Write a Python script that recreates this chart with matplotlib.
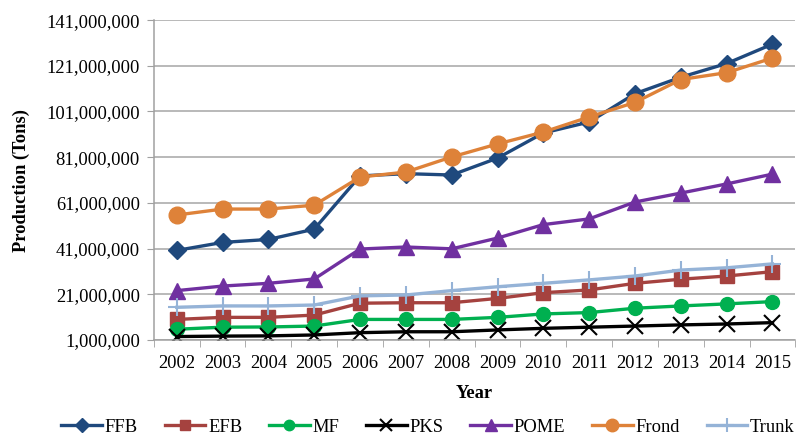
import matplotlib
matplotlib.use("Agg")
import matplotlib.pyplot as plt
from matplotlib.ticker import FuncFormatter, FixedLocator

years = [2002, 2003, 2004, 2005, 2006, 2007, 2008, 2009, 2010, 2011, 2012, 2013, 2014, 2015]
ffb = [40.2e6, 43.7e6, 45.0e6, 49.5e6, 72.8e6, 73.8e6, 73.2e6, 80.6e6, 91.6e6, 96.4e6, 108.8e6, 116.0e6, 122.0e6, 130.5e6]
efb = [10.0e6, 10.9e6, 10.9e6, 11.9e6, 17.1e6, 17.3e6, 17.3e6, 19.2e6, 21.7e6, 22.9e6, 25.8e6, 27.6e6, 29.0e6, 30.9e6]
mf = [5.7e6, 6.6e6, 6.7e6, 7.1e6, 10.0e6, 10.0e6, 10.0e6, 10.9e6, 12.4e6, 13.0e6, 14.9e6, 15.9e6, 16.8e6, 17.8e6]
pks = [2.5e6, 2.7e6, 2.8e6, 3.2e6, 4.2e6, 4.6e6, 4.6e6, 5.4e6, 6.1e6, 6.6e6, 7.1e6, 7.6e6, 8.0e6, 8.6e6]
pome = [22.6e6, 24.6e6, 25.8e6, 27.7e6, 40.8e6, 41.7e6, 40.9e6, 45.6e6, 51.5e6, 54.0e6, 61.4e6, 65.3e6, 69.3e6, 73.6e6]
frond = [55.7e6, 58.3e6, 58.3e6, 60.0e6, 72.3e6, 74.5e6, 81.1e6, 86.8e6, 92.0e6, 98.6e6, 105.0e6, 115.0e6, 118.0e6, 124.4e6]
trunk = [15.3e6, 15.9e6, 15.9e6, 16.3e6, 20.3e6, 20.7e6, 22.6e6, 24.3e6, 25.8e6, 27.3e6, 29.0e6, 31.6e6, 32.6e6, 34.3e6]
yticks = [1e6, 21e6, 41e6, 61e6, 81e6, 101e6, 121e6, 141e6]

series = [
    ("FFB", ffb, "#1F497D", "D", 9),
    ("EFB", efb, "#A5423F", "s", 10),
    ("MF", mf, "#00B050", "o", 10),
    ("PKS", pks, "#000000", "x", 11),
    ("POME", pome, "#7030A0", "^", 11),
    ("Frond", frond, "#DE8239", "o", 12),
    ("Trunk", trunk, "#95B3D7", "+", 13),
]

plt.rcParams['font.family'] = ['Liberation Serif', 'DejaVu Serif']

fig = plt.figure(figsize=(7.97, 4.37), dpi=100)
ax = fig.add_axes([0.193, 0.222, 0.805, 0.732])

x = list(range(len(years)))
for name, vals, col, mk, ms in series:
    kw = dict(color=col, lw=2.4, marker=mk, markersize=ms, label=name,
              markerfacecolor=col, markeredgecolor=col)
    if mk in ("x", "+"):
        kw["markeredgewidth"] = 1.5
    ax.plot(x, vals, **kw)

ax.set_xlim(-0.5, len(years) - 0.5)
ax.set_ylim(1e6, 141e6)
ax.yaxis.set_major_locator(FixedLocator(yticks))
ax.yaxis.set_major_formatter(FuncFormatter(lambda v, p: f"{int(round(v)):,}"))
ax.set_xticks(x)
ax.set_xticklabels([str(y) for y in years])
ax.set_xticks([i - 0.5 for i in range(len(years) + 1)], minor=True)
ax.tick_params(axis='x', which='major', length=0, labelsize=13.3, pad=11)
ax.tick_params(axis='x', which='minor', length=5, color='#A0A0A0', direction='out')
ax.tick_params(axis='y', which='major', length=5, color='#A0A0A0', labelsize=13.3, pad=5)

ax.grid(axis='y', color='#A6A6A6', lw=1.1)
ax.set_axisbelow(True)
for s in ['top', 'right']:
    ax.spines[s].set_visible(False)
for s in ['left', 'bottom']:
    ax.spines[s].set_color('#A0A0A0')
    ax.spines[s].set_linewidth(1.1)

ax.set_xlabel("Year", fontsize=13.3, fontweight='bold', labelpad=9)
ax.set_ylabel("Production (Tons)", fontsize=13.3, fontweight='bold', labelpad=12)

fig.legend(loc='lower center', bbox_to_anchor=(0.537, -0.035), ncol=7, frameon=False,
           fontsize=13.3, handlelength=2.2, handletextpad=0.15, columnspacing=1.45,
           markerscale=0.75)

fig.savefig("out.png", dpi=100)
